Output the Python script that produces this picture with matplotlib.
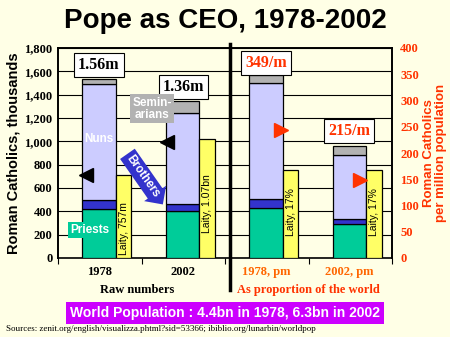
import numpy as np
import matplotlib
matplotlib.use('Agg')
import matplotlib.pyplot as plt

# raw numbers, thousands (left axis)
raw_years = ['1978', '2002']
raw_priests = [418, 403]
raw_brothers = [80, 60]
raw_nuns = [990, 777]
raw_seminarians = [50, 110]
raw_laity = [711, 1018]
raw_totals = ['1.56m', '1.36m']
raw_laity_labels = ['Laity, 757m', 'Laity, 1.07bn']

# per million of world population (right axis)
pm_years = ['1978, pm', '2002, pm']
pm_priests = [95, 65]
pm_brothers = [17, 9]
pm_nuns = [221, 123]
pm_seminarians = [15, 17]
pm_laity = [168, 168]
pm_totals = ['349/m', '215/m']
pm_laity_labels = ['Laity, 17%', 'Laity, 17%']

BG = '#FFFFE6'
TEAL = '#00CC99'
BLUE = '#3333CC'
LAV = '#CCCCFF'
GREY = '#B2B2B2'
YEL = '#FFFF66'
RED = '#FF3300'
ORANGE = '#FF6600'
SANS = 'Liberation Sans'
SERIF = 'Liberation Serif'

fig = plt.figure(figsize=(4.5, 3.37), dpi=100, facecolor=BG)
W, H = 450, 337
ax = fig.add_axes([58 / W, (H - 258) / H, (392 - 58) / W, (258 - 48) / H])
ax.set_facecolor(BG)
ax2 = ax.twinx()

sw, lw_ = 0.40, 0.19


def stack(axis, xs, layers, colors):
    bottom = np.zeros(len(xs))
    for vals, col in zip(layers, colors):
        axis.bar(xs, vals, width=sw, bottom=bottom, color=col, edgecolor='black',
                 linewidth=0.9, align='center', zorder=3)
        bottom = bottom + np.array(vals)
    return bottom


xr = np.array([0, 1]) - 0.01
xp = np.array([2, 3]) - 0.01
cols = [TEAL, BLUE, LAV, GREY]
stack(ax, xr, [raw_priests, raw_brothers, raw_nuns, raw_seminarians], cols)
ax.bar(xr + sw / 2 + lw_ / 2, raw_laity, width=lw_, color=YEL, edgecolor='black', linewidth=0.9, zorder=3)
stack(ax2, xp, [pm_priests, pm_brothers, pm_nuns, pm_seminarians], cols)
ax2.bar(xp + sw / 2 + lw_ / 2, pm_laity, width=lw_, color=YEL, edgecolor='black', linewidth=0.9, zorder=3)

ax.set_xlim(-0.5, 3.5)
ax.set_ylim(0, 1800)
ax2.set_ylim(0, 400)
ax.set_yticks(np.arange(0, 1801, 200))
ax.set_yticklabels(['{:,}'.format(v) for v in range(0, 1801, 200)],
                   fontfamily=SERIF, fontweight='bold', fontsize=9)
ax2.set_yticks(np.arange(0, 401, 50))
ax2.set_yticklabels([str(v) for v in range(0, 401, 50)], fontfamily=SERIF,
                    fontweight='bold', fontsize=9, color=RED)
ax.yaxis.grid(True, color='black', linewidth=0.8, zorder=0)
ax.set_axisbelow(True)
ax.set_xticks([-0.5, 0.5, 1.5, 2.5, 3.5])
ax.set_xticklabels([])
ax.tick_params(axis='x', length=4, direction='out')
ax.tick_params(axis='y', length=0, pad=4)
ax2.tick_params(axis='y', length=0, pad=6)
for s in ax.spines.values():
    s.set_linewidth(1.2)
for s in ax2.spines.values():
    s.set_linewidth(1.2)
ax2.spines['bottom'].set_visible(False)

ax.set_ylabel('Roman Catholics, thousands', fontfamily=SANS, fontweight='bold', fontsize=10.5, labelpad=3)
ax2.set_ylabel('Roman Catholics\nper million population', fontfamily=SANS, fontweight='bold',
               fontsize=9.5, color=RED, labelpad=3, linespacing=1.0)

# total boxes
box = dict(boxstyle='square,pad=0.25', facecolor='white', edgecolor='black', linewidth=0.8)
ax.text(-0.01, 1655, raw_totals[0], ha='center', va='center', fontfamily=SERIF, fontweight='bold',
        fontsize=11.5, bbox=box, zorder=5)
ax.text(1.0, 1468, raw_totals[1], ha='center', va='center', fontfamily=SERIF, fontweight='bold',
        fontsize=11.5, bbox=box, zorder=5)
ax2.text(1.99, 372, pm_totals[0], ha='center', va='center', fontfamily=SERIF, fontweight='bold',
         fontsize=11.5, color=RED, bbox=box, zorder=5)
ax2.text(2.985, 241, pm_totals[1], ha='center', va='center', fontfamily=SERIF, fontweight='bold',
         fontsize=11.5, color=RED, bbox=box, zorder=5)

# laity labels inside yellow bars
for x, t, y in zip(xr + sw / 2 + lw_ / 2, raw_laity_labels, [255, 470]):
    ax.text(x, y, t, rotation=90, ha='center', va='center', fontfamily=SANS, fontsize=7.5, zorder=5)
for x, t in zip(xp + sw / 2 + lw_ / 2, pm_laity_labels):
    ax2.text(x, 87, t, rotation=90, ha='center', va='center', fontfamily=SANS, fontsize=7.5, zorder=5)

# segment names
ax.text(-0.01, 1024, 'Nuns', ha='center', va='center', color='white', fontfamily=SANS,
        fontweight='bold', fontsize=8.5, zorder=5)
ax.text(-0.12, 239, 'Priests', ha='center', va='center', color='white', fontfamily=SANS,
        fontweight='bold', fontsize=8.5, zorder=5,
        bbox=dict(boxstyle='square,pad=0.2', facecolor=TEAL, edgecolor='none'))
ax.text(0.63, 1280, 'Semin-\narians', ha='center', va='center', color='white', fontfamily=SANS,
        fontweight='bold', fontsize=8.5, linespacing=1.0, zorder=5,
        bbox=dict(boxstyle='square,pad=0.2', facecolor=GREY, edgecolor='none'))
ax.text(0.52, 700, 'Brothers', ha='center', va='center', color='white', fontfamily=SANS,
        fontweight='bold', fontsize=8.5, rotation=-55, zorder=5,
        bbox=dict(boxstyle='rarrow,pad=0.25', facecolor=BLUE, edgecolor='none'))

# pointer triangles
ax.plot([-0.17, 0.80], [708, 998], linestyle='none', marker='<', color='black', markersize=10, zorder=6)
ax2.plot([2.17, 3.12], [243, 148], linestyle='none', marker='>', color=RED, markersize=10, zorder=6)

# category labels below axis
for x, t in zip([100, 183], raw_years):
    fig.text(x / W, 1 - 272 / H, t, ha='center', va='center', fontfamily=SERIF, fontweight='bold', fontsize=9)
fig.text(137 / W, 1 - 290 / H, 'Raw numbers', ha='center', va='center', fontfamily=SERIF,
         fontweight='bold', fontsize=9)
for x, t in zip([266, 349], pm_years):
    fig.text(x / W, 1 - 272 / H, t, ha='center', va='center', fontfamily=SERIF, fontweight='bold',
             fontsize=9, color=ORANGE)
fig.text(308 / W, 1 - 290 / H, 'As proportion of the world', ha='center', va='center', fontfamily=SERIF,
         fontweight='bold', fontsize=9, color=RED)

# divider
fig.add_artist(plt.Line2D([230 / W, 230 / W], [1 - 44 / H, 1 - 290 / H], color='black', linewidth=2.5))

fig.text(0.5, 1 - 21 / H, 'Pope as CEO, 1978-2002', ha='center', va='center', fontfamily=SANS,
         fontweight='bold', fontsize=20)
fig.text(225 / W, 1 - 313 / H, 'World Population : 4.4bn in 1978, 6.3bn in 2002', ha='center', va='center',
         fontfamily=SANS, fontweight='bold', fontsize=10, color='white',
         bbox=dict(boxstyle='square,pad=0.3', facecolor='#CC00FF', edgecolor='none'))
fig.text(6 / W, 1 - 329 / H, 'Sources: zenit.org/english/visualizza.phtml?sid=53366; ibiblio.org/lunarbin/worldpop',
         ha='left', va='center', fontfamily=SERIF, fontsize=6.5)

fig.savefig('out.png', dpi=100, facecolor=BG)
